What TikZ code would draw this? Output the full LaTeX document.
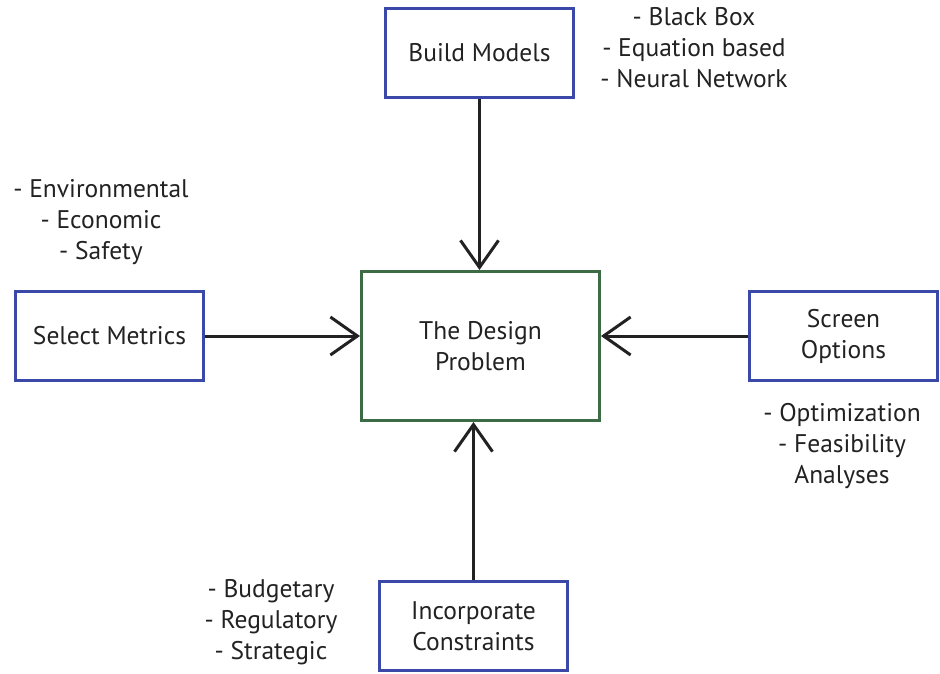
\documentclass[tikz,border=0pt]{standalone}
\usepackage{fontspec}
\setmainfont{PT Sans}
\usetikzlibrary{arrows.meta}
\definecolor{boxblue}{HTML}{3A48A8}
\definecolor{boxgreen}{HTML}{3D6B45}
\definecolor{ink}{HTML}{222222}
\begin{document}
\begin{tikzpicture}[x=1pt,y=-1pt,
  txt/.style={font=\fontsize{25.5}{31}\selectfont, text=ink, align=center, inner sep=0pt},
  bluebox/.style={draw=boxblue, line width=3pt, minimum width=188pt, minimum height=89pt, inner sep=0pt, txt},
  greenbox/.style={draw=boxgreen, line width=3pt, minimum width=238pt, minimum height=149pt, inner sep=0pt, txt},
  conn/.style={draw=ink, line width=3pt, -{Straight Barb[length=27pt,width=38pt,line width=3pt]}}
]
\useasboundingbox (0,0) rectangle (940,674);
\node[greenbox] (dp) at (480.5,346) {The Design\\Problem};
\node[bluebox] (bm) at (479.5,53) {Build Models};
\node[bluebox] (sm) at (109.5,336) {Select Metrics};
\node[bluebox] (so) at (843.5,336) {Screen\\Options};
\node[bluebox] (ic) at (473.5,626) {Incorporate\\Constraints};

\node[txt] (bml) at (694,48) {- Black Box\\- Equation based\\- Neural Network};
\node[txt] (sml) at (101,222) {- Environmental\\- Economic\\- Safety};
\node[txt] (sol) at (842,446) {- Optimization\\- Feasibility\\Analyses};
\node[txt] (icl) at (271,622) {- Budgetary\\- Regulatory\\- Strategic};

\draw[conn] (bm.south) -- (bm.south |- dp.north);
\draw[conn] (sm.east) -- (sm.east -| dp.west);
\draw[conn] (so.west) -- (so.west -| dp.east);
\draw[conn] (ic.north) -- (ic.north |- dp.south);
\end{tikzpicture}
\end{document}
